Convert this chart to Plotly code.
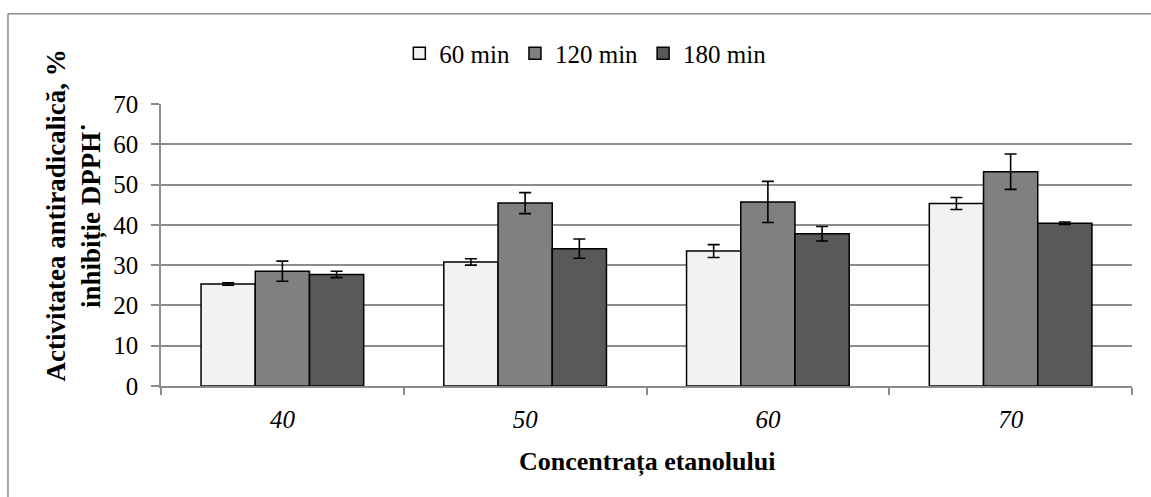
import plotly.graph_objects as go

categories = ["40", "50", "60", "70"]
series_names = ["60 min", "120 min", "180 min"]
vals_60 = [25.3, 30.8, 33.5, 45.3]
err_60 = [0.3, 0.8, 1.6, 1.5]
vals_120 = [28.5, 45.4, 45.7, 53.2]
err_120 = [2.5, 2.6, 5.1, 4.4]
vals_180 = [27.7, 34.1, 37.8, 40.4]
err_180 = [0.8, 2.4, 1.8, 0.3]
colors = ["#f2f2f2", "#808080", "#595959"]
y_ticks = [0, 10, 20, 30, 40, 50, 60, 70]

FONT = "Liberation Serif"
GRID = "#8c8c8c"

fig = go.Figure()
for name, v, e, c in zip(series_names, [vals_60, vals_120, vals_180],
                         [err_60, err_120, err_180], colors):
    fig.add_trace(go.Bar(
        x=categories, y=v, name=name,
        marker=dict(color=c, line=dict(color="black", width=1.5)),
        error_y=dict(type="data", array=e, visible=True, color="black",
                     thickness=1.6, width=6),
    ))

fig.update_layout(
    width=1151, height=497,
    margin=dict(l=161, r=19, t=104, b=111),
    paper_bgcolor="white", plot_bgcolor="white",
    barmode="group", bargap=0.33, bargroupgap=0,
    font=dict(family=FONT, size=25, color="black"),
    showlegend=True,
    legend=dict(orientation="h", x=0.437, y=1.179, xanchor="center",
                yanchor="middle",
                font=dict(family=FONT, size=25, color="black"),
                itemwidth=30, traceorder="normal"),
    xaxis=dict(
        type="category", showgrid=False, showline=True, linecolor=GRID,
        linewidth=1.5, ticks="outside", tickson="boundaries", ticklen=7,
        tickcolor=GRID, tickwidth=1.5,
        tickfont=dict(family=FONT, size=25, style="italic", color="black"),
        ticklabelstandoff=10,
    ),
    yaxis=dict(
        range=[0, 70], tickvals=y_ticks, showgrid=True, gridcolor=GRID,
        gridwidth=1.5, showline=True, linecolor=GRID, linewidth=1.5,
        ticks="outside", ticklen=8, tickcolor=GRID, tickwidth=1.5,
        zeroline=False, tickfont=dict(family=FONT, size=25, color="black"),
        ticklabelstandoff=8,
    ),
    annotations=[
        dict(text="<b>Activitatea antiradicalică, %<br>inhibiție DPPH˙</b>",
             xref="paper", yref="paper", x=-0.0896, y=0.605,
             xanchor="center", yanchor="middle", textangle=-90,
             showarrow=False, font=dict(family=FONT, size=27, color="black")),
        dict(text="<b>Concentrața etanolului</b>",
             xref="paper", yref="paper", x=0.5, y=-0.269,
             xanchor="center", yanchor="middle", showarrow=False,
             font=dict(family=FONT, size=26, color="black")),
    ],
    shapes=[
        dict(type="line", xref="paper", yref="paper", x0=-0.1576, x1=1.05,
             y0=1.32, y1=1.32, line=dict(color=GRID, width=1.5)),
        dict(type="line", xref="paper", yref="paper", x0=-0.1576, x1=-0.1576,
             y0=1.32, y1=-0.45, line=dict(color=GRID, width=1.5)),
    ],
)

fig.write_html("out.html")
